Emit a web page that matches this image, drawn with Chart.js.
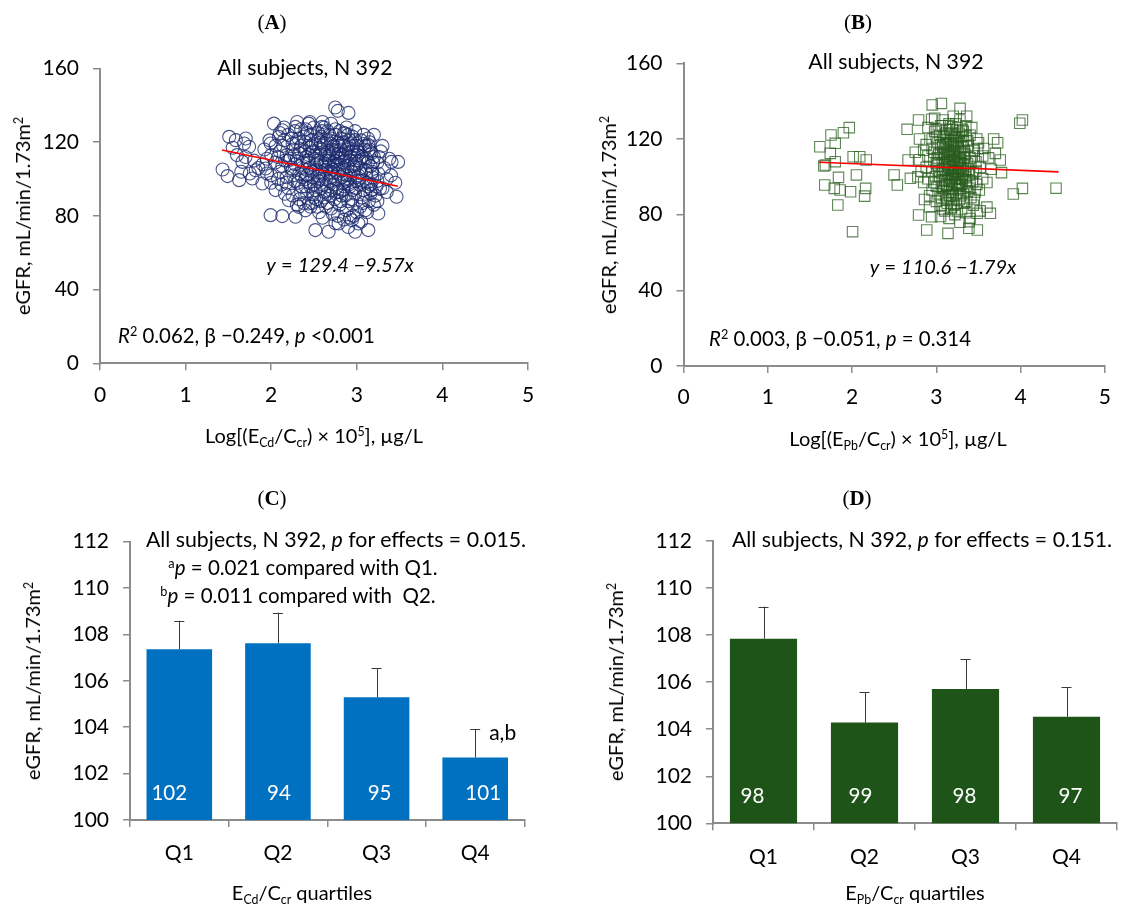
<!DOCTYPE html>
<html><head><meta charset="utf-8">
<script src="https://cdn.jsdelivr.net/npm/chart.js@4.4.1/dist/chart.umd.min.js"></script>
<style>
html,body{margin:0;padding:0;background:#fff;}
#wrap{position:relative;width:1123px;height:906px;overflow:hidden;background:#fff;}
canvas{position:absolute;}
.t{position:absolute;transform:translate(-50%,-50%);white-space:nowrap;font-family:Lato,"Open Sans",sans-serif;font-size:20px;color:#000;line-height:1;z-index:5;}
.l{transform:translate(0,-50%);}
.ry{transform:translate(-50%,-50%) rotate(-90deg);}
.pt{font-family:"Liberation Serif","DejaVu Serif",serif;font-size:21px;}
.big{font-size:21.3px;}
sup,sub{font-size:0.62em;line-height:0;}
sup{vertical-align:0.55em;}
sub{vertical-align:-0.3em;}
</style></head>
<body><div id="wrap">
<canvas id="cA" width="560" height="460" style="left:0;top:0"></canvas>
<canvas id="cB" width="563" height="460" style="left:560px;top:0"></canvas>
<canvas id="cC" width="560" height="446" style="left:0;top:460px"></canvas>
<canvas id="cD" width="563" height="446" style="left:560px;top:460px"></canvas>

<div class="t pt" style="left:272px;top:22px">(<b>A</b>)</div>
<div class="t pt" style="left:858px;top:22px">(<b>B</b>)</div>
<div class="t pt" style="left:272px;top:498px">(<b>C</b>)</div>
<div class="t pt" style="left:857px;top:498px">(<b>D</b>)</div>

<div class="t big" style="left:305px;top:68px">All subjects, N 392</div>
<div class="t big" style="left:896px;top:62px">All subjects, N 392</div>
<div class="t" style="left:340px;top:264px"><i>y</i> = <i>129.4 −9.57x</i></div>
<div class="t" style="left:943px;top:266px"><i>y</i> = <i>110.6 −1.79x</i></div>
<div class="t l" style="left:118px;top:335px;font-size:20.4px"><i>R</i><sup>2</sup> 0.062, β −0.249, <i>p</i> &lt;0.001</div>
<div class="t l" style="left:709px;top:338px;font-size:20.4px"><i>R</i><sup>2</sup> 0.003, β −0.051, <i>p</i> = 0.314</div>
<div class="t" style="left:314px;top:435px">Log[(E<sub>Cd</sub>/C<sub>cr</sub>) × 10<sup>5</sup>], µg/L</div>
<div class="t" style="left:898px;top:438px">Log[(E<sub>Pb</sub>/C<sub>cr</sub>) × 10<sup>5</sup>], µg/L</div>
<div class="t ry" style="left:22px;top:216px">eGFR, mL/min/1.73m<sup>2</sup></div>
<div class="t ry" style="left:608px;top:215px">eGFR, mL/min/1.73m<sup>2</sup></div>
<div class="t ry" style="left:32px;top:681px">eGFR, mL/min/1.73m<sup>2</sup></div>
<div class="t ry" style="left:615px;top:682px">eGFR, mL/min/1.73m<sup>2</sup></div>

<div class="t big" style="left:336px;top:540px">All subjects, N 392, <i>p</i> for effects = 0.015.</div>
<div class="t" style="left:303px;top:567px;font-size:20.5px"><sup>a</sup><i>p</i> = 0.021 compared with Q1.</div>
<div class="t" style="left:298px;top:595px;font-size:20.5px"><sup>b</sup><i>p</i> = 0.011 compared with&nbsp; Q2.</div>
<div class="t big" style="left:922px;top:540px">All subjects, N 392, <i>p</i> for effects = 0.151.</div>
<div class="t" style="left:302px;top:892px">E<sub>Cd</sub>/C<sub>cr</sub> quartiles</div>
<div class="t" style="left:915px;top:892px">E<sub>Pb</sub>/C<sub>cr</sub> quartiles</div>
</div>
<script>
// ---------- DATA ----------
const pointsA = [
[2.748,138.8],[2.779,137.0],[2.903,135.9],[1.509,122.9],[1.587,121.1],[1.703,122.0],[1.684,119.3],[1.742,117.5],
[1.432,105.2],[1.490,101.6],[1.626,99.4],[1.780,100.3],[1.664,109.3],[3.406,109.3],[3.483,109.3],[3.464,90.4],
[3.271,94.9],[3.251,81.3],[1.993,80.4],[2.129,79.9],[2.284,79.5],[2.516,72.3],[2.671,71.4],[2.980,71.4],
[3.135,72.3],[2.787,75.9],[2.032,130.1],[2.303,131.0],[2.284,128.3],[3.135,118.4],[3.155,114.8],[1.819,104.8],
[1.935,105.7],[1.897,97.6],[2.051,94.0],[2.206,88.5],[2.322,84.9],[2.438,86.7],[2.942,77.7],[3.019,75.9],
[3.097,83.1],[3.174,94.0],[3.174,103.0],[1.993,119.3],[2.129,126.5],[2.090,122.9],[2.438,130.1],[2.593,128.3],
[2.864,124.7],[2.980,121.1],
[2.35,127],[2.42,125],[2.5,128],[2.6,126],[2.68,124],[2.75,127],[2.2,124],[2.28,126],[2.85,125],[2.95,123],[3.05,121],
[2.15,121],[2.25,119],[2.32,122],[2.4,120],[2.47,118],[2.55,121],[2.62,119],[2.7,122],[2.78,120],[2.85,118],[2.92,121],
[3.0,118],[3.08,119],[3.15,120],[2.05,118],[1.98,121],[2.38,123],[2.58,123],[2.82,122],
[2.1,115],[2.18,113],[2.26,116],[2.33,114],[2.41,112],[2.49,115],[2.56,117],[2.63,113],[2.71,116],[2.79,114],[2.86,112],
[2.94,115],[3.01,113],[3.09,116],[3.2,112],[3.28,115],[2.0,113],[1.92,116],[2.45,117],[2.67,111],[2.9,117],[2.22,111],
[2.05,109],[2.13,107],[2.2,110],[2.28,108],[2.36,106],[2.44,109],[2.52,111],[2.6,107],[2.68,110],[2.76,108],[2.84,106],
[2.92,110],[3.0,108],[3.08,111],[3.16,107],[3.24,109],[3.32,106],[2.3,111],[2.58,109],[2.8,111],[1.9,108],[2.72,105],
[2.0,102],[2.1,104],[2.18,101],[2.25,105],[2.33,103],[2.4,100],[2.48,104],[2.55,102],[2.63,105],[2.7,101],[2.78,103],
[2.86,100],[2.94,104],[3.02,102],[3.1,105],[3.18,101],[3.25,103],[3.35,100],[2.45,106],[2.88,102],
[2.12,97],[2.2,95],[2.28,99],[2.36,96],[2.44,98],[2.52,94],[2.6,97],[2.68,99],[2.76,95],[2.84,98],[2.92,96],[3.0,99],
[3.08,94],[3.16,97],[3.24,99],[3.3,95],[2.56,100],[2.8,93],[2.35,93],
[2.25,91],[2.33,89],[2.42,92],[2.5,90],[2.58,88],[2.66,92],[2.74,89],[2.82,91],[2.9,88],[2.98,92],[3.06,90],[3.14,88],
[3.22,91],[2.62,93],[2.95,86],
[2.3,86],[2.4,83],[2.48,87],[2.56,82],[2.64,85],[2.72,81],[2.8,86],[2.88,83],[2.96,80],[3.04,85],[3.12,82],[3.2,86],
[2.6,79],[2.85,78],[2.75,76],[2.9,74],[3.05,77],
[1.7,112],[1.8,110],[1.85,106],[1.95,111],[2.0,98],[1.6,113],[1.75,103],[1.55,117],[1.65,104],[2.1,125],[2.15,128],
[2.6,131],[2.45,131],[2.7,130],[3.2,124],[3.3,118],[3.38,111],[3.4,102],[3.35,93],[3.45,98],
[2.52,119],[2.57,114],[2.61,118],[2.66,115],[2.73,118],[2.77,112],[2.81,116],[2.87,114],[2.91,119],[2.97,113],
[2.53,108],[2.57,104],[2.63,108],[2.69,104],[2.73,107],[2.79,105],[2.83,109],[2.89,107],[2.97,105],[3.03,110],
[2.39,115],[2.43,110],[2.35,118],[2.47,121],[2.55,125],[2.65,121],[2.75,124],[2.9,124],[3.0,116],[3.05,103],
[3.12,98],[2.42,102],[2.5,97],[2.65,96],[2.7,94],[2.85,96],[2.95,94],[3.1,92],[2.38,87],[2.46,85],
[2.51,113],[2.54,110],[2.59,116],[2.64,110],[2.68,113],[2.71,119],[2.74,110],[2.76,115],[2.79,118],[2.83,113],
[2.86,110],[2.88,116],[2.93,112],[2.96,118],[2.99,110],[3.02,115],[3.06,112],[3.1,118],[3.13,109],[3.17,114],
[2.48,101],[2.52,105],[2.55,99],[2.6,103],[2.64,100],[2.67,107],[2.71,103],[2.75,100],[2.78,108],[2.82,101],
[2.85,105],[2.89,99],[2.92,102],[2.96,107],[3.0,101],[3.04,106],[3.07,99],[3.11,103],[3.14,96],[3.18,104],
[2.3,120],[2.34,116],[2.37,109],[2.41,105],[2.44,113],[2.46,96],[2.49,92],[2.53,89],[2.58,95],[2.62,90],
[2.66,87],[2.69,91],[2.73,97],[2.77,93],[2.81,88],[2.84,94],[2.87,91],[2.91,97],[2.94,89],[2.99,95],
[3.03,97],[3.07,87],[3.11,111],[3.15,116],[3.19,109],[3.23,96],[3.26,112],[3.13,122],[2.88,128],[2.8,126],
[2.62,128],[2.4,127],[2.27,113],[2.23,106],[2.16,110],[2.14,118],[2.08,112],[2.18,98],[2.26,102],[2.31,98],
[2.24,122],[2.46,124],[2.58,120],[2.66,126],[2.72,114],[2.84,120],[2.98,126],[3.08,124],[2.54,85],[2.7,84],
[2.78,80],[2.92,79],[3.0,82],[3.16,92],[3.24,88],[2.36,101],[2.4,96],[2.16,92],[2.08,100],[1.95,103]
];
const pointsB = [
[1.618,115.9],[1.75,122.1],[1.897,123.3],[1.967,126.0],[1.80,117.7],[1.742,112.4],[1.684,106.2],[1.80,108.0],
[2.013,110.6],[2.091,110.6],[2.168,108.9],[2.052,101.0],[1.839,99.7],[1.676,95.7],[1.789,93.9],[1.858,93.0],
[1.982,92.1],[2.161,93.9],[2.149,89.8],[1.831,85.1],[2.006,71.0],[1.665,105.7],
[2.653,125.1],[2.665,108.9],[2.498,101.0],[2.537,95.7],[2.692,99.2],
[2.951,138.0],[3.06,138.8],[3.281,136.2],[2.789,130.0],[2.944,130.4],
[3.727,118.0],[3.70,112.4],[3.758,108.9],[3.773,102.2],[3.913,90.9],[4.021,93.9],[3.99,128.3],[4.021,130.0],
[3.641,80.7],[3.486,80.7],[4.42,94.0],
[2.789,79.8],[2.944,78.9],[2.886,71.9],[3.138,70.1],[3.386,72.8],[3.486,71.9],[3.39,76.3],
[2.9,126],[2.98,124],[3.05,127],[3.12,125],[3.18,123],[3.25,126],[3.32,124],[3.4,122],[3.0,121],[3.15,128],[3.22,121],
[2.95,120],[3.35,127],
[2.88,117],[2.95,115],[3.02,118],[3.08,116],[3.14,114],[3.2,117],[3.26,115],[3.32,119],[3.38,116],[3.45,114],[3.5,118],
[3.05,113],[3.17,119],[3.29,113],[2.85,114],
[2.9,111],[2.97,109],[3.03,112],[3.1,110],[3.16,108],[3.22,111],[3.28,109],[3.34,112],[3.4,110],[3.47,108],[3.55,111],
[3.0,107],[3.12,113],[3.25,107],[3.37,107],[2.8,109],
[2.88,105],[2.95,103],[3.02,106],[3.08,104],[3.14,102],[3.2,105],[3.26,103],[3.32,106],[3.38,104],[3.44,102],[3.52,105],
[3.1,107],[3.18,101],[3.3,101],[2.82,103],
[2.9,99],[2.97,97],[3.04,100],[3.1,98],[3.16,96],[3.22,99],[3.28,97],[3.34,100],[3.4,98],[3.48,96],[3.55,99],
[3.06,95],[3.2,101],[3.36,95],[2.85,97],
[2.95,93],[3.02,91],[3.08,94],[3.14,92],[3.2,90],[3.26,93],[3.32,91],[3.4,94],[3.46,92],[3.12,95],[3.25,96],[3.0,95],
[3.0,87],[3.06,85],[3.12,88],[3.18,84],[3.24,86],[3.3,83],[3.36,87],[3.44,85],[3.52,82],[3.1,82],[3.22,80],[3.35,81],
[3.6,84],[2.92,84],[3.15,78],[3.28,76],[3.05,79],[3.4,78],
[3.11,118],[3.13,111],[3.15,106],[3.17,99],[3.19,113],[3.21,108],[3.23,103],[3.24,118],[3.27,99],[3.29,105],
[3.19,94],[3.21,122],[3.09,121],[3.13,101],[3.07,109],[3.31,116],[3.33,110],[3.35,103],[3.06,102],[3.18,88],
[3.23,91],[3.27,88],[3.11,90],[3.3,121],[3.16,125],[3.08,130],[3.2,132],[3.28,130],[2.98,131],[3.36,132],
[3.42,126],[3.48,120],[3.56,115],[3.62,110],[3.65,104],[3.6,97],[3.68,120],[2.8,120],[2.75,113],[2.78,100],
[2.92,90],[2.86,88],
[3.1,115],[3.12,108],[3.14,120],[3.15,98],[3.16,111],[3.17,104],[3.18,116],[3.19,100],[3.2,109],[3.21,114],
[3.22,97],[3.23,106],[3.24,112],[3.25,101],[3.26,119],[3.27,110],[3.28,94],[3.29,116],[3.3,107],[3.31,99],
[3.12,96],[3.14,105],[3.16,118],[3.18,92],[3.2,103],[3.22,116],[3.24,99],[3.26,108],[3.28,113],[3.3,96],
[3.05,117],[3.03,103],[3.07,98],[3.09,112],[3.01,110],[2.99,100],[2.97,113],[3.04,122],[3.06,89],[3.09,93],
[3.33,114],[3.35,98],[3.37,119],[3.39,101],[3.41,108],[3.43,97],[3.45,111],[3.47,103],[3.49,115],[3.51,93],
[3.13,86],[3.17,83],[3.21,85],[3.25,82],[3.29,90],[3.33,86],[3.37,92],[3.41,89],[3.08,83],[3.45,88],
[3.15,127],[3.19,125],[3.23,128],[3.27,123],[3.11,123],[3.31,125],[3.35,122],[3.0,125],[3.07,127],[3.2,119],
[3.18,109],[3.22,102],[3.26,95],[3.14,112],[3.1,104],[3.28,104],[3.24,121],[3.16,90],[3.12,117],[3.32,103]
];
const regA = [129.4, -9.57];   // intercept, slope
const regARange = [1.425, 3.48];
const regB = [110.6, -1.79];
const regBRange = [1.607, 4.45];
const xTicks = [0, 1, 2, 3, 4, 5];
const yTicksScatter = [0, 40, 80, 120, 160];

const quartiles = ['Q1', 'Q2', 'Q3', 'Q4'];
const meanCd = [107.36, 107.62, 105.29, 102.70];
const seCd = [1.23, 1.32, 1.25, 1.21];
const nCd = [102, 94, 95, 101];
const meanPb = [107.85, 104.28, 105.71, 104.53];
const sePb = [1.36, 1.29, 1.26, 1.25];
const nPb = [98, 99, 98, 97];
const yTicksBar = [100, 102, 104, 106, 108, 110, 112];

// ---------- HELPERS ----------
const AX = '#8c8c8c';
const FONT = {family: 'Lato', size: 21};
function frame(rect, plot) {
  return {
    pad: {top: plot.t - rect.top, right: rect.left + rect.w - plot.r, left: 0, bottom: 0},
    yw: plot.l - rect.left,
    xh: rect.top + rect.h - plot.b
  };
}
function axisBase(fitKey, fitVal) {
  return {
    grid: {drawOnChartArea: false, drawTicks: true, tickLength: 7, color: AX, lineWidth: 1.5},
    border: {display: true, color: AX, width: 2},
    ticks: {color: '#000', font: FONT, padding: 12},
    afterFit: (s) => { s[fitKey] = fitVal; }
  };
}

const errPlugin = {
  id: 'errbars',
  afterDatasetsDraw(chart, args, o) {
    if (!o || !o.se) return;
    const ctx = chart.ctx, ys = chart.scales.y, meta = chart.getDatasetMeta(0);
    const vals = chart.data.datasets[0].data;
    ctx.save();
    meta.data.forEach((el, i) => {
      const top = ys.getPixelForValue(vals[i] + o.se[i]);
      ctx.strokeStyle = '#3a3a3a'; ctx.lineWidth = 1;
      ctx.beginPath();
      ctx.moveTo(Math.round(el.x) + 0.5, el.y); ctx.lineTo(Math.round(el.x) + 0.5, top);
      ctx.moveTo(el.x - 5, Math.round(top) + 0.5); ctx.lineTo(el.x + 5, Math.round(top) + 0.5);
      ctx.stroke();
      ctx.fillStyle = '#fff'; ctx.font = '20.5px Lato'; ctx.textAlign = 'center'; ctx.textBaseline = 'middle';
      ctx.fillText(String(o.n[i]), el.x + (o.dx ? o.dx[i] : 0), ys.getPixelForValue(o.nAt));
      if (o.mark && o.mark[i]) {
        ctx.fillStyle = '#000'; ctx.textAlign = 'left'; ctx.font = '21px Lato';
        ctx.fillText(o.mark[i], el.x + 14, top + 4);
      }
    });
    ctx.restore();
  }
};

function scatterChart(id, rect, plot, pts, reg, range, style) {
  const f = frame(rect, plot);
  const xs = axisBase('height', f.xh), yS = axisBase('width', f.yw);
  xs.type = 'linear'; xs.min = 0; xs.max = 5; xs.ticks.stepSize = 1;
  xs.afterBuildTicks = (s) => { s.ticks = xTicks.map(v => ({value: v})); };
  yS.min = 0; yS.max = 160; yS.ticks.padding = 14;
  yS.afterBuildTicks = (s) => { s.ticks = yTicksScatter.map(v => ({value: v})); };
  return new Chart(document.getElementById(id), {
    type: 'scatter',
    data: {datasets: [
      {type: 'line', data: range.map(x => ({x: x, y: reg[0] + reg[1] * x})), borderColor: '#ff0000',
       borderWidth: 1.6, pointRadius: 0, fill: false},
      {data: pts.map(p => ({x: p[0], y: p[1]})), pointStyle: style.shape, pointRadius: style.r,
       borderColor: style.color, backgroundColor: 'rgba(0,0,0,0)', borderWidth: 1.1}
    ]},
    options: {
      responsive: false, animation: false, devicePixelRatio: 1,
      layout: {padding: f.pad},
      plugins: {legend: {display: false}, tooltip: {enabled: false}},
      scales: {x: xs, y: yS}
    }
  });
}

function barChart(id, rect, plot, means, se, n, color, mark, dx) {
  const f = frame(rect, plot);
  const xs = axisBase('height', f.xh), yS = axisBase('width', f.yw);
  xs.grid.offset = true; xs.ticks.padding = 14;
  yS.min = 100; yS.max = 112; yS.ticks.padding = 14;
  yS.afterBuildTicks = (s) => { s.ticks = yTicksBar.map(v => ({value: v})); };
  return new Chart(document.getElementById(id), {
    type: 'bar',
    data: {labels: quartiles, datasets: [{data: means, backgroundColor: color, borderWidth: 0,
      barPercentage: 0.665, categoryPercentage: 1.0}]},
    options: {
      responsive: false, animation: false, devicePixelRatio: 1,
      layout: {padding: f.pad},
      plugins: {legend: {display: false}, tooltip: {enabled: false},
        errbars: {se: se, n: n, nAt: 101.15, mark: mark, dx: dx}},
      scales: {x: xs, y: yS}
    },
    plugins: [errPlugin]
  });
}

scatterChart('cA', {left: 0, top: 0, w: 560, h: 460}, {l: 100, r: 528, t: 68.5, b: 363.3},
  pointsA, regA, regARange, {shape: 'circle', r: 6.5, color: 'rgba(28,42,110,0.8)'});
scatterChart('cB', {left: 560, top: 0, w: 563, h: 460}, {l: 683.5, r: 1114, t: 63.3, b: 366},
  pointsB, regB, regBRange, {shape: 'rect', r: 7.4, color: 'rgba(40,92,30,0.75)'});
barChart('cC', {left: 0, top: 460, w: 560, h: 446}, {l: 130, r: 524.5, t: 541.7, b: 820},
  meanCd, seCd, nCd, '#0070c0', ['', '', '', 'a,b'], [-10, 1, 3, 8]);
barChart('cD', {left: 560, top: 460, w: 563, h: 446}, {l: 713, r: 1117, t: 541, b: 823.3},
  meanPb, sePb, nPb, '#1f5418', null, [-11, -4, -1, 4]);
</script>
</body></html>
